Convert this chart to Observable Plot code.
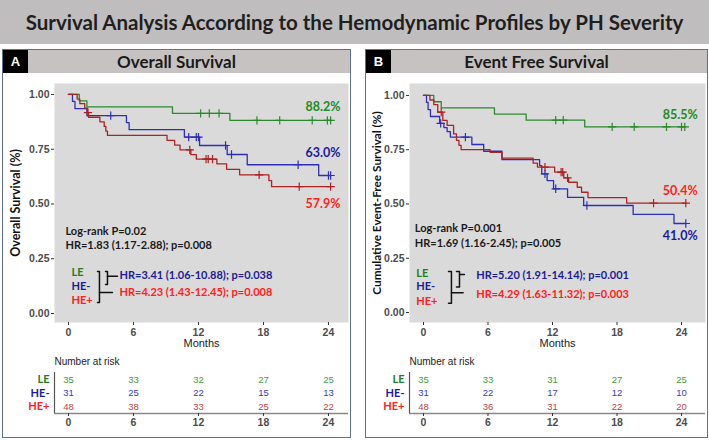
<!DOCTYPE html>
<html><head><meta charset="utf-8">
<script src="https://cdn.jsdelivr.net/npm/d3@7"></script>
<script src="https://cdn.jsdelivr.net/npm/@observablehq/plot@0.6"></script>
<style>
body{margin:0;width:709px;height:441px;position:relative;background:#fff;overflow:hidden;font-family:Lato,sans-serif}
#banner{position:absolute;left:0;top:0;width:709px;height:44px;background:#bfbdbd;display:flex;align-items:center;justify-content:center;font-weight:700;font-size:20.5px;color:#1f1f1f}
.panel{position:absolute;top:49px;height:389px;border:1px solid #5f6f90;box-sizing:border-box;background:#fff}
.hdr{position:absolute;left:0;top:0;right:0;height:23px;background:#c6c2c2;text-align:center;line-height:23px;font-weight:700;font-size:17px;color:#1a1a1a}
.tag{position:absolute;left:0;top:0;width:25px;height:23px;background:#000;color:#fff;font:bold 13px "Liberation Sans",Arial,sans-serif;text-align:center;line-height:23px}
.box{position:absolute}
</style></head>
<body>
<div id="banner">Survival Analysis According to the Hemodynamic Profiles by PH Severity</div>
<div class="panel" style="left:2px;width:349px"><div class="hdr">Overall Survival</div><div class="tag">A</div></div>
<div class="panel" style="left:365px;width:343px"><div class="hdr">Event Free Survival</div><div class="tag">B</div></div>
<div class="box" id="kmA" style="left:0;top:72px"></div>
<div class="box" id="rkA" style="left:0;top:352px"></div>
<div class="box" id="kmB" style="left:362px;top:72px"></div>
<div class="box" id="rkB" style="left:362px;top:352px"></div>
<script>
// ---------- categories & ticks ----------
const groups = ["LE", "HE-", "HE+"];
const xTicks = [0, 6, 12, 18, 24];
const yTicks = [0, 0.25, 0.5, 0.75, 1];
const riskTimes = [0, 6, 12, 18, 24];

// ---------- Overall survival (panel A) ----------
const osLE_t = [0, 1.0, 1.7, 9.6, 14.9, 24.2];
const osLE_s = [1, 0.971, 0.943, 0.914, 0.882, 0.882];
const osLE_c = [12.2, 13.0, 13.9, 17.4, 19.5, 22.5, 23.9, 24.2];
const osHEm_t = [0, 0.37, 0.6, 1.7, 5.35, 5.6, 10.7, 12.1, 14.65, 16.5, 23.1, 24.2];
const osHEm_s = [1, 0.968, 0.935, 0.903, 0.871, 0.839, 0.805, 0.767, 0.726, 0.679, 0.63, 0.63];
const osHEm_c = [3.9, 11.1, 11.8, 12.0, 14.5, 15.05, 21.2, 24.0, 24.2];
const osHEp_t = [0, 0.8, 1.05, 1.5, 1.75, 1.85, 2.9, 3.3, 3.45, 3.6, 9.1, 9.8, 10.3, 11.3, 11.8, 13.7, 14.6, 15.8, 18.5, 18.75, 24.2];
const osHEp_s = [1, 0.979, 0.958, 0.938, 0.917, 0.896, 0.875, 0.854, 0.833, 0.813, 0.79, 0.769, 0.747, 0.725, 0.705, 0.683, 0.658, 0.633, 0.607, 0.579, 0.579];
const osHEp_c = [1.8, 11.2, 12.7, 12.9, 13.3, 17.6, 21.3, 24.2];
const osRisk_LE = [35, 33, 32, 27, 25];
const osRisk_HEm = [31, 25, 22, 15, 13];
const osRisk_HEp = [48, 38, 33, 25, 22];
const osEndLabels = ["88.2%", "63.0%", "57.9%"];   // LE, HE-, HE+
const osLogrank = ["Log-rank P=0.02", "HR=1.83 (1.17-2.88); p=0.008"];
const osHR = ["HR=3.41 (1.06-10.88); p=0.038", "HR=4.23 (1.43-12.45); p=0.008"];

// ---------- Event free survival (panel B) ----------
const efLE_t = [0, 0.96, 1.65, 6.6, 9.55, 15.0, 24.3];
const efLE_s = [1, 0.971, 0.943, 0.914, 0.886, 0.855, 0.855];
const efLE_c = [12.3, 13.0, 17.55, 19.6, 22.6, 24.0, 24.3];
const efHEm_t = [0, 0.28, 0.43, 0.65, 1.5, 1.9, 2.2, 2.5, 4.5, 5.6, 7.3, 10.8, 11.0, 11.5, 12.1, 13.4, 14.9, 19.5, 23.3, 24.4];
const efHEm_s = [1, 0.968, 0.935, 0.903, 0.871, 0.852, 0.833, 0.808, 0.774, 0.743, 0.704, 0.677, 0.639, 0.608, 0.57, 0.53, 0.493, 0.452, 0.41, 0.41];
const efHEm_c = [1.6, 3.9, 11.3, 12.3, 15.2, 24.4];
const efHEp_t = [0, 0.6, 0.96, 1.33, 1.8, 2.2, 2.8, 3.07, 3.3, 3.5, 6.2, 7.3, 10.2, 10.6, 12.2, 13.05, 13.5, 14.3, 14.7, 15.3, 18.9, 24.4];
const efHEp_s = [1, 0.979, 0.958, 0.923, 0.885, 0.862, 0.823, 0.793, 0.77, 0.75, 0.738, 0.711, 0.688, 0.67, 0.647, 0.62, 0.6, 0.577, 0.554, 0.529, 0.504, 0.504];
const efHEp_c = [1.65, 11.3, 12.8, 12.95, 13.4, 21.4, 24.4];
const efRisk_LE = [35, 33, 31, 27, 25];
const efRisk_HEm = [31, 22, 17, 12, 10];
const efRisk_HEp = [48, 36, 31, 22, 20];
const efEndLabels = ["85.5%", "41.0%", "50.4%"];   // LE, HE-, HE+
const efLogrank = ["Log-rank P=0.001", "HR=1.69 (1.16-2.45); p=0.005"];
const efHR = ["HR=5.20 (1.91-14.14); p=0.001", "HR=4.29 (1.63-11.32); p=0.003"];

// ---------- colours ----------
const lineColor = {"LE": "#2a8a2a", "HE-": "#2e2eb8", "HE+": "#ad2222"};
const pctColor = {"LE": "#228b22", "HE-": "#1a1a99", "HE+": "#ff1f1f"};
const labelColor = {"LE": "#1f7f1f", "HE-": "#1c1c96", "HE+": "#ff2020"};
const riskColor = {"LE": "#3f9a3f", "HE-": "#3c3cc4", "HE+": "#c04545"};
const calib = "Lato, sans-serif";
const arial = "'Liberation Sans', Arial, sans-serif";

function survAt(ts, ss, c) { let v = ss[0]; for (let i = 0; i < ts.length; i++) if (ts[i] <= c) v = ss[i]; return v; }

function kmPlot(o) {
  const marks = [
    Plot.frame({fill: "#dadada", stroke: null}),
    Plot.axisY({ticks: yTicks, tickFormat: d3.format(".2f"), tickSize: 3, tickPadding: 2, label: null,
      fontSize: 10.5, fontWeight: "bold", fill: "#4d4d4d", stroke: "#333", fontFamily: arial}),
    Plot.axisX({ticks: xTicks, tickSize: 3, tickPadding: 3, label: null,
      fontSize: 10.5, fontWeight: "bold", fill: "#4d4d4d", stroke: "#333", fontFamily: arial}),
    Plot.text([o.ylabel], {frameAnchor: "left", textAnchor: "middle", lineAnchor: "middle", rotate: -90, dx: o.ylabelDx,
      fontSize: o.ylabelSize, fontWeight: "bold", fontFamily: calib, fill: "#111"}),
    Plot.text(["Months"], {frameAnchor: "bottom", textAnchor: "middle", lineAnchor: "middle", dy: 21, fontSize: 11, fontFamily: arial, fill: "#222"})
  ];
  o.series.forEach(([g, ts, ss, cs]) => {
    const pts = ts.map((t, i) => ({t, s: ss[i]}));
    marks.push(Plot.line(pts, {x: "t", y: "s", curve: "step-after", stroke: lineColor[g], strokeWidth: 1.3}));
    const cens = cs.map(c => ({t: c, s: survAt(ts, ss, c)}));
    marks.push(Plot.dot(cens, {x: "t", y: "s", symbol: "plus", r: 2.8, stroke: lineColor[g], strokeWidth: 1.2}));
  });
  // end-of-curve percentages
  marks.push(Plot.text(o.endLabels, {x: () => o.endX, y: (d, i) => o.endY[i], text: d => d, textAnchor: "end",
    fill: (d, i) => pctColor[groups[i]], fontSize: 12.5, fontWeight: "bold", fontFamily: calib}));
  // log-rank lines
  marks.push(Plot.text(o.logrank, {x: () => o.lrX, y: (d, i) => o.lrY[i], text: d => d, textAnchor: "start",
    fill: "#1a1a1a", fontSize: 11, fontWeight: "bold", fontFamily: calib}));
  // legend group labels
  marks.push(Plot.text(groups, {x: () => o.legX, y: (d, i) => o.legY[i], text: d => d, textAnchor: "start",
    fill: d => labelColor[d], fontSize: 11, fontWeight: "bold", fontFamily: calib}));
  // brackets
  const b = o.br;
  const brackets = [
    {k: "outer", pts: [[b.oL, b.oTop], [b.oX, b.oTop], [b.oX, b.oBot], [b.oL, b.oBot]]},
    {k: "outerTick", pts: [[b.oX, b.oMid], [b.oOut, b.oMid]]},
    {k: "inner", pts: [[b.iL, b.oTop], [b.iX, b.oTop], [b.iX, b.iBot], [b.iL, b.iBot]]},
    {k: "innerTick", pts: [[b.iX, b.iMid], [b.iOut, b.iMid]]}
  ].flatMap(s => s.pts.map(p => ({k: s.k, t: p[0], s: p[1]})));
  marks.push(Plot.line(brackets, {x: "t", y: "s", z: "k", stroke: "#111", strokeWidth: 1.5}));
  // HR lines
  marks.push(Plot.text(o.hr, {x: () => o.hrX, y: (d, i) => o.hrY[i], text: d => d, textAnchor: "start",
    fill: (d, i) => i === 0 ? "#1c1c96" : "#ff2020", fontSize: 11, fontWeight: "bold", fontFamily: calib}));
  return Plot.plot({
    width: o.width, height: 280, marginLeft: o.ml, marginRight: 4, marginTop: 11, marginBottom: 30,
    x: {domain: o.xd}, y: {domain: o.yd},
    style: {background: "transparent", overflow: "visible"},
    marks
  });
}

function riskPlot(o) {
  const yd = [-0.52, 2.52];
  const marks = [
    Plot.ruleX([o.xd[0]], {stroke: "#555", strokeWidth: 1.2}),
    Plot.ruleY([yd[1]], {stroke: "#888", strokeWidth: 1.5}),
    Plot.axisX({ticks: xTicks, tickSize: 3, tickPadding: 2, label: null,
      fontSize: 10.5, fontWeight: "bold", fill: "#4d4d4d", stroke: "#333", fontFamily: arial}),
    Plot.text(["Number at risk"], {frameAnchor: "top-left", textAnchor: "start", lineAnchor: "middle", dy: -11,
      fontSize: 10, fontFamily: arial, fill: "#222"}),
    Plot.text(groups, {frameAnchor: "left", y: (d, i) => i, text: d => d, textAnchor: "end", dx: -5,
      fill: d => labelColor[d], fontSize: 11, fontWeight: "bold", fontFamily: calib})
  ];
  o.risk.forEach((arr, i) => {
    const g = groups[i];
    marks.push(Plot.text(arr, {x: (d, j) => riskTimes[j], y: () => i, text: d => String(d),
      fill: riskColor[g], fontSize: 9.5, fontFamily: arial}));
  });
  return Plot.plot({
    width: o.width, height: 86, marginLeft: o.ml, marginRight: 4, marginTop: 20, marginBottom: 25,
    x: {domain: o.xd}, y: {domain: yd, reverse: true, axis: null},
    style: {background: "transparent", overflow: "visible"},
    marks
  });
}

const A = {
  width: 352, ml: 54, xd: [-1.29, 25.85], yd: [-0.041, 1.05],
  ylabel: "Overall Survival (%)", ylabelDx: -39, ylabelSize: 12.5,
  series: [["LE", osLE_t, osLE_s, osLE_c], ["HE-", osHEm_t, osHEm_s, osHEm_c], ["HE+", osHEp_t, osHEp_s, osHEp_c]],
  endLabels: osEndLabels, endX: 25.1, endY: [0.941, 0.731, 0.502],
  logrank: osLogrank, lrX: -0.28, lrY: [0.374, 0.31],
  legX: 0.28, legY: [0.187, 0.123, 0.059],
  br: {oL: 2.68, oX: 2.86, oTop: 0.192, oBot: 0.05, oMid: 0.096, oOut: 4.06,
       iL: 3.42, iX: 3.6, iBot: 0.132, iMid: 0.17, iOut: 4.52},
  hr: osHR, hrX: 4.71, hrY: [0.174, 0.096],
  risk: [osRisk_LE, osRisk_HEm, osRisk_HEp]
};
const B = {
  width: 347, ml: 47, xd: [-1.30, 26.23], yd: [-0.046, 1.055],
  ylabel: "Cumulative Event-Free Survival (%)", ylabelDx: -32, ylabelSize: 11.8,
  series: [["LE", efLE_t, efLE_s, efLE_c], ["HE-", efHEm_t, efHEm_s, efHEm_c], ["HE+", efHEp_t, efHEp_s, efHEp_c]],
  endLabels: efEndLabels, endX: 25.5, endY: [0.912, 0.352, 0.562],
  logrank: efLogrank, lrX: -0.81, lrY: [0.388, 0.319],
  legX: -0.68, legY: [0.181, 0.12, 0.051],
  br: {oL: 2.33, oX: 2.6, oTop: 0.189, oBot: 0.043, oMid: 0.091, oOut: 3.69,
       iL: 3.07, iX: 3.35, iBot: 0.117, iMid: 0.175, iOut: 3.81},
  hr: efHR, hrX: 4.9, hrY: [0.171, 0.082],
  risk: [efRisk_LE, efRisk_HEm, efRisk_HEp]
};

document.getElementById("kmA").append(kmPlot(A));
document.getElementById("rkA").append(riskPlot(A));
document.getElementById("kmB").append(kmPlot(B));
document.getElementById("rkB").append(riskPlot(B));
</script>
</body></html>
